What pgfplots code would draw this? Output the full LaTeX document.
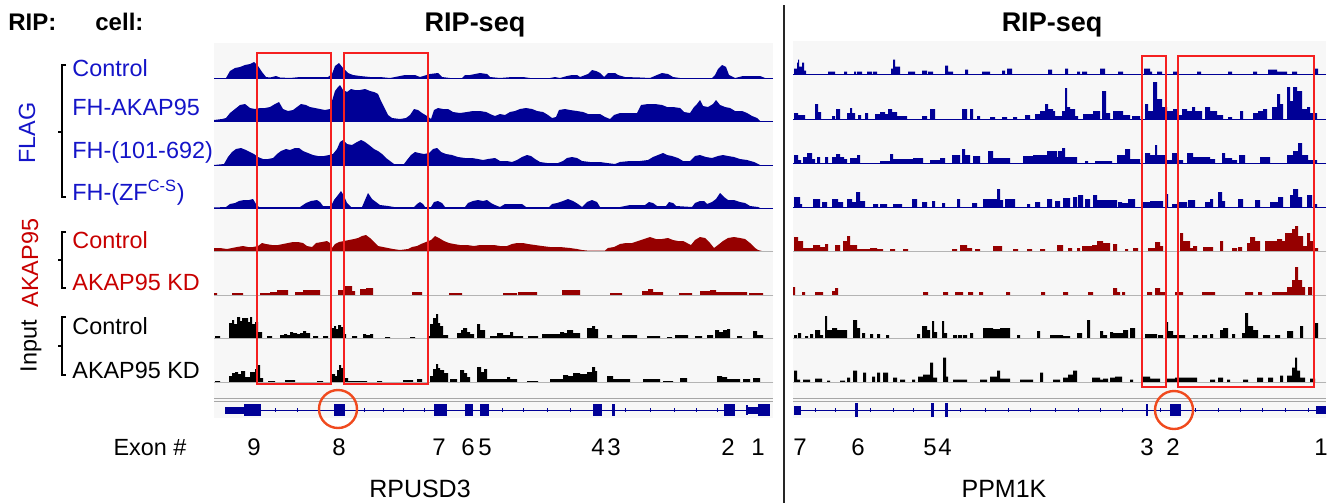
\documentclass[border=0pt]{standalone}
\usepackage{fontspec}
\setmainfont{Liberation Sans}
\usepackage{pgfplots}
\pgfplotsset{compat=1.18}
\definecolor{trblue}{HTML}{000096}
\definecolor{trred}{HTML}{960000}
\definecolor{labblue}{HTML}{1414C8}
\definecolor{labred}{HTML}{C80000}
\definecolor{bg}{HTML}{F7F7F7}
\definecolor{boxred}{HTML}{F52020}
\definecolor{circ}{HTML}{F04A1E}
\definecolor{basegray}{HTML}{B4B4B4}

\pgfplotsset{
  trk/.style={hide axis, scale only axis, anchor=south west, ymin=0, ymax=40, height=20pt, clip=false},
  lp/.style={xmin=214, xmax=773, width=279.5pt},
  rp/.style={xmin=793, xmax=1326, width=266.5pt},
}
% #1 panel, #2 x left (px), #3 baseline (px), #4 fill, #5 baseline colour, #6 plot kind, #7 coords
\newcommand{\track}[7]{%
  \begin{axis}[trk, #1, at={({#2*0.5pt},{-#3*0.5pt})}]
    \addplot[#6, fill=#4, draw=none] coordinates {#7} \closedcycle;
    \draw[#5, line width=0.5pt] (rel axis cs:0,0) -- (rel axis cs:1,0);
  \end{axis}}
\newcommand{\exon}[3]{\addplot[fill=trblue, draw=none] coordinates {(#1,-#3) (#2,-#3) (#2,#3) (#1,#3)} -- cycle;}
\newcommand{\lab}{\fontsize{11.7}{13}\selectfont}
\newcommand{\hd}{\fontsize{12}{14}\selectfont\bfseries}

\begin{document}
\begin{tikzpicture}
\begin{scope}[x=0.5pt, y=-0.5pt]
  \path[use as bounding box] (0,0) rectangle (1337,503);
  \fill[bg] (214,43) rectangle (773,418);
  \fill[bg] (793,41) rectangle (1326,418);
  \foreach \yy in {398,401} {
    \draw[gray!70, line width=0.5pt] (214,\yy) -- (773,\yy);
    \draw[gray!70, line width=0.5pt] (793,\yy) -- (1326,\yy);
  }
\end{scope}

% ---------- left panel: RPUSD3 ----------
\track{lp}{214}{78}{trblue}{trblue}{sharp plot}{(214,0)(226,0)(230,7)(235,10)(240,11)(245,13)(250,14)(254,16)(258,12)(262,6)(266,1)(270,0.5)(276,2)(280,0.5)(290,0)(300,1)(310,1)(320,1)(328,1)(332,4)(335,12)(339,15)(343,10)(348,5)(353,3)(360,2)(370,1)(380,1)(390,0)(400,2)(405,3)(415,3)(420,1)(430,4)(438,5)(442,1)(450,0)(462,0)(465,3)(470,3)(475,4)(480,5)(487,4)(490,1)(500,0)(512,1)(523,1)(530,0)(550,0)(555,1)(560,0)(567,2)(572,3)(577,3)(580,1)(588,4)(592,8)(596,7)(600,5)(604,1)(608,5)(615,5)(618,3)(625,1)(640,0.5)(650,0)(657,3)(662,5)(668,4)(673,1)(680,0)(712,0)(715,3)(718,9)(722,13)(726,11)(729,3)(735,0)(743,2)(760,2)(765,0)(773,0)}
\track{lp}{214}{121}{trblue}{trblue}{sharp plot}{(214,1)(222,2)(226,3)(230,8)(235,12)(240,16)(245,17)(250,13)(255,12)(260,13)(265,13)(270,14)(275,17)(279,19)(283,12)(288,10)(293,11)(297,14)(301,17)(306,16)(310,14)(315,13)(320,12)(325,11)(330,12)(332,20)(335,30)(338,34)(340,36)(343,31)(347,29)(351,32)(355,31)(360,31)(365,32)(370,30)(374,29)(378,27)(381,20)(384,14)(388,6)(392,3)(400,2)(406,3)(410,6)(414,12)(418,11)(422,8)(427,5)(431,2)(434,11)(438,13)(443,12)(448,12)(453,9)(460,8)(467,9)(473,10)(480,10)(486,9)(490,7)(495,5)(500,7)(505,6)(510,9)(515,10)(520,12)(526,13)(532,12)(537,10)(543,9)(548,6)(552,3)(556,4)(559,11)(565,12)(570,11)(577,10)(583,9)(588,7)(595,7)(600,7)(605,4)(610,2)(614,6)(620,8)(630,8)(637,8)(641,16)(648,17)(655,17)(662,16)(667,14)(673,14)(680,13)(684,9)(690,8)(694,14)(697,17)(700,21)(703,15)(708,14)(713,17)(716,21)(720,16)(725,14)(730,13)(735,10)(742,10)(747,8)(752,5)(757,3)(760,0)(773,0)}
\track{lp}{214}{165}{trblue}{trblue}{sharp plot}{(214,0)(224,1)(228,8)(232,13)(236,16)(241,17)(246,15)(250,13)(254,11)(258,8)(263,6)(268,6)(273,7)(277,11)(281,14)(286,16)(290,15)(295,17)(299,17)(303,14)(308,12)(313,10)(318,9)(324,9)(329,10)(333,11)(337,16)(340,23)(343,25)(347,21)(352,20)(357,23)(361,25)(365,23)(369,20)(374,16)(378,14)(382,11)(386,7)(390,4)(394,1)(404,1)(407,5)(411,10)(415,13)(419,12)(424,11)(429,12)(433,16)(437,17)(441,13)(446,11)(452,10)(458,8)(465,7)(472,7)(478,6)(483,5)(488,6)(495,7)(500,4)(507,4)(512,3)(517,5)(522,8)(527,10)(531,9)(535,6)(540,3)(547,2)(558,2)(563,4)(567,7)(572,8)(577,7)(582,4)(590,3)(600,3)(607,2)(615,1)(620,3)(630,4)(640,4)(648,5)(653,8)(658,10)(663,12)(667,10)(672,9)(678,7)(683,4)(690,4)(695,9)(700,10)(706,8)(712,7)(718,9)(723,10)(728,9)(734,8)(740,6)(747,5)(754,3)(760,0)(773,0)}
\track{lp}{214}{208}{trblue}{trblue}{sharp plot}{(214,0.5)(226,1)(230,4)(235,5)(239,7)(244,8)(249,8)(253,9)(256,4)(259,1)(275,1)(300,1)(303,3)(306,5)(311,7)(317,8)(320,6)(323,2)(331,2)(334,8)(338,13)(341,17)(344,12)(347,5)(351,1)(362,1)(365,8)(368,15)(372,9)(376,6)(380,3)(388,2)(394,1)(414,1)(417,4)(420,6)(423,4)(425,1)(431,1)(434,6)(438,7)(442,5)(445,1)(465,1)(468,5)(473,7)(478,8)(483,7)(487,8)(491,5)(495,3)(500,1)(505,4)(515,4)(522,4)(526,1)(549,1)(552,4)(557,5)(563,7)(568,9)(573,7)(578,4)(582,1)(587,6)(592,8)(597,6)(600,1)(620,1)(630,3)(645,3)(649,6)(653,5)(657,2)(666,2)(669,6)(673,5)(676,2)(692,1)(695,5)(700,7)(704,7)(707,4)(712,6)(716,9)(720,15)(724,11)(728,8)(734,8)(740,6)(745,5)(750,2)(758,1)(760,0)(773,0)}
\track{lp}{214}{251}{trred}{basegray}{sharp plot}{(214,3)(220,3)(227,2)(232,3)(237,4)(243,5)(248,4)(253,4)(258,5)(262,8)(266,7)(272,6)(278,6)(283,7)(288,8)(293,9)(298,9)(303,8)(307,5)(312,4)(316,8)(322,9)(327,10)(330,8)(332,3)(335,7)(339,9)(344,10)(349,11)(354,12)(358,13)(362,15)(366,16)(370,13)(374,9)(378,5)(383,4)(388,3)(393,2)(400,1)(408,2)(412,4)(417,5)(421,7)(426,9)(431,11)(435,15)(439,13)(444,10)(449,8)(454,7)(460,6)(467,6)(474,5)(480,6)(487,6)(494,6)(500,5)(507,5)(512,7)(517,8)(523,8)(528,7)(535,6)(542,5)(550,4)(560,4)(570,3)(577,2)(582,1)(587,0.5)(605,0.5)(608,3)(614,4)(620,7)(626,8)(632,8)(638,10)(644,12)(650,14)(656,12)(662,12)(668,13)(673,11)(678,10)(683,10)(687,8)(691,6)(695,11)(700,14)(705,13)(710,8)(714,3)(718,6)(723,10)(728,13)(734,14)(740,13)(745,12)(750,8)(755,3)(758,1)(762,0)(773,0)}
\track{lp}{214}{295}{trred}{basegray}{const plot}{(214,2)(217,0)(232,2)(243,0)(260,2)(270,3)(277,5)(288,0)(295,3)(303,5)(320,0)(338,5)(343,9)(352,4)(355,0)(360,6)(366,7)(373,0)(412,3)(422,0)(449,2)(462,0)(503,2)(517,0)(518,3)(537,0)(562,5)(580,0)(610,2)(622,0)(642,4)(648,6)(653,3)(663,0)(679,2)(692,0)(700,4)(710,5)(716,3)(747,0)(749,2)(763,0)(773,0)}
\track{lp}{214}{338}{black}{basegray}{const plot}{(214,0)(215,2)(220,0)(229,15)(232,18)(234,14)(237,21)(240,17)(242,20)(245,20)(248,16)(250,21)(252,14)(255,16)(258,6)(262,0)(267,2)(272,0)(280,3)(284,4)(287,3)(290,6)(293,5)(297,4)(300,5)(303,7)(306,5)(310,0)(313,2)(318,0)(323,2)(328,0)(332,10)(334,12)(336,9)(338,13)(341,11)(343,4)(346,0)(352,2)(357,0)(363,4)(366,3)(370,4)(373,0)(385,1)(390,0)(410,1)(415,0)(427,2)(430,14)(433,20)(436,24)(438,15)(440,12)(443,3)(448,0)(457,5)(461,8)(463,10)(467,6)(470,4)(474,0)(477,14)(480,8)(485,0)(490,2)(497,5)(503,3)(510,6)(513,2)(523,0)(528,2)(538,0)(542,4)(560,6)(564,5)(567,8)(573,5)(580,0)(587,10)(592,12)(595,9)(598,0)(607,3)(612,0)(622,3)(637,0)(647,2)(660,0)(667,1)(672,0)(675,3)(688,0)(695,2)(702,0)(707,3)(713,0)(715,8)(719,6)(723,8)(727,9)(730,0)(737,2)(742,0)(753,7)(757,3)(763,0)(773,0)}
\track{lp}{214}{382}{black}{basegray}{const plot}{(214,0)(215,1)(220,0)(229,6)(232,9)(235,10)(238,8)(241,11)(245,5)(250,10)(255,13)(257,17)(260,4)(263,0)(268,1)(275,0)(285,2)(295,0)(317,1)(323,0)(332,8)(335,6)(337,12)(339,17)(341,14)(343,4)(348,1)(367,0)(377,1)(382,0)(403,2)(413,0)(417,3)(422,0)(430,6)(433,13)(436,18)(438,14)(440,12)(444,9)(448,0)(450,3)(457,0)(460,12)(464,9)(467,5)(470,0)(477,15)(481,10)(484,13)(487,3)(490,3)(507,5)(510,3)(517,0)(527,1)(538,0)(550,3)(563,7)(568,6)(573,9)(580,8)(587,10)(592,15)(595,11)(597,0)(607,6)(613,3)(630,0)(643,3)(660,0)(663,1)(673,0)(680,4)(687,0)(717,6)(722,5)(727,3)(740,0)(743,3)(750,0)(753,4)(760,0)(773,0)}

% ---------- right panel: PPM1K ----------
\track{rp}{793}{74.5}{trblue}{trblue}{const plot}{(793,0)(794,6)(797,12)(798,15)(799,8)(802,12)(804,4)(806,0)(828,3)(835,0)(844,3)(847,0)(854,3)(856,0)(857,3)(862,0)(867,3)(872,0)(873,3)(877,0)(891,6)(893,15)(895,8)(900,0)(908,3)(915,0)(922,4)(927,0)(928,3)(933,0)(945,9)(948,3)(953,0)(965,5)(968,0)(982,3)(990,0)(1002,4)(1005,0)(1007,6)(1012,0)(1048,5)(1052,0)(1065,6)(1068,0)(1077,3)(1080,0)(1082,3)(1087,0)(1100,6)(1105,0)(1118,3)(1123,0)(1144,6)(1150,3)(1152,0)(1157,3)(1162,0)(1173,3)(1177,0)(1197,3)(1201,0)(1228,3)(1232,0)(1253,3)(1257,0)(1268,5)(1277,3)(1287,0)(1292,3)(1297,0)(1315,6)(1318,0)(1326,0)}
\track{rp}{793}{119}{trblue}{trblue}{const plot}{(793,0)(794,6)(798,4)(805,0)(815,15)(818,7)(821,0)(832,3)(835,0)(836,10)(840,0)(847,6)(850,11)(852,6)(855,0)(858,4)(861,0)(865,6)(868,0)(875,5)(880,7)(885,5)(888,10)(892,7)(897,3)(907,0)(922,3)(927,0)(930,10)(935,0)(962,10)(967,0)(970,10)(973,0)(977,3)(980,0)(990,2)(995,0)(1002,2)(1007,0)(1013,2)(1017,0)(1025,4)(1030,0)(1035,5)(1040,8)(1045,15)(1048,10)(1053,8)(1055,3)(1062,8)(1065,31)(1067,12)(1070,10)(1075,3)(1078,0)(1083,5)(1093,8)(1100,0)(1102,28)(1106,6)(1110,0)(1113,8)(1123,4)(1130,0)(1132,3)(1140,0)(1145,15)(1148,8)(1153,37)(1157,20)(1162,12)(1167,8)(1173,10)(1177,4)(1182,10)(1187,8)(1192,12)(1195,8)(1202,0)(1205,12)(1210,8)(1217,4)(1223,0)(1228,2)(1232,0)(1240,8)(1243,0)(1253,6)(1258,8)(1263,10)(1267,0)(1272,12)(1277,25)(1280,15)(1283,0)(1287,32)(1290,18)(1293,32)(1297,28)(1302,10)(1307,12)(1310,6)(1317,0)(1326,0)}
\track{rp}{793}{163}{trblue}{trblue}{const plot}{(793,0)(794,8)(798,3)(801,0)(803,6)(807,10)(812,4)(815,0)(817,6)(820,0)(825,6)(828,0)(832,6)(836,9)(840,6)(844,4)(847,0)(850,5)(855,5)(857,8)(860,0)(880,2)(890,9)(893,4)(913,5)(923,0)(930,3)(940,5)(945,0)(952,8)(960,0)(962,14)(965,8)(970,0)(973,7)(980,0)(988,12)(993,5)(1010,0)(1023,7)(1033,8)(1047,12)(1057,6)(1058,12)(1062,15)(1065,6)(1070,6)(1077,0)(1085,2)(1088,0)(1095,2)(1112,0)(1117,8)(1125,14)(1130,4)(1140,0)(1145,10)(1150,8)(1155,18)(1157,8)(1165,3)(1172,10)(1177,3)(1183,0)(1187,10)(1193,6)(1210,4)(1215,0)(1222,10)(1225,5)(1232,3)(1237,0)(1239,8)(1245,0)(1260,6)(1270,0)(1287,8)(1293,12)(1298,20)(1302,8)(1308,3)(1317,0)(1326,0)}
\track{rp}{793}{207}{trblue}{trblue}{const plot}{(793,0)(794,10)(800,3)(802,0)(813,8)(820,0)(822,5)(827,0)(832,8)(838,5)(843,0)(847,8)(852,5)(856,15)(860,6)(865,0)(873,3)(878,0)(880,3)(887,0)(893,3)(902,0)(912,8)(917,0)(922,5)(927,0)(932,6)(935,0)(942,4)(945,0)(957,8)(960,0)(972,4)(977,0)(983,8)(997,18)(1000,7)(1003,0)(1005,8)(1015,0)(1027,3)(1030,0)(1035,5)(1040,0)(1047,8)(1052,0)(1055,6)(1060,0)(1063,9)(1070,0)(1073,10)(1077,0)(1078,12)(1083,0)(1085,8)(1090,0)(1093,12)(1097,7)(1117,0)(1118,5)(1122,4)(1128,8)(1135,0)(1143,5)(1150,6)(1163,0)(1165,13)(1168,0)(1172,3)(1178,5)(1187,0)(1188,7)(1195,0)(1205,5)(1210,8)(1213,0)(1218,15)(1222,6)(1225,0)(1238,8)(1243,0)(1255,7)(1260,0)(1270,5)(1278,10)(1283,0)(1290,12)(1293,18)(1298,10)(1302,0)(1307,12)(1312,0)(1313,3)(1317,0)(1326,0)}
\track{rp}{793}{251}{trred}{basegray}{const plot}{(793,0)(794,14)(798,10)(803,3)(813,6)(820,4)(825,7)(828,0)(835,6)(840,0)(843,10)(847,15)(850,6)(857,2)(870,3)(877,2)(883,0)(890,2)(895,0)(903,2)(908,0)(952,2)(957,0)(960,6)(967,3)(972,0)(975,2)(980,0)(993,5)(1002,0)(1013,2)(1018,0)(1027,2)(1032,0)(1040,2)(1045,0)(1057,6)(1063,0)(1068,3)(1072,0)(1077,3)(1080,0)(1082,5)(1092,6)(1097,10)(1103,8)(1110,0)(1113,7)(1117,0)(1125,2)(1128,0)(1133,3)(1138,0)(1148,3)(1155,9)(1160,5)(1163,0)(1180,18)(1183,10)(1190,3)(1193,5)(1197,0)(1203,4)(1213,0)(1220,10)(1223,0)(1232,3)(1237,0)(1238,4)(1242,0)(1247,8)(1250,14)(1255,10)(1260,0)(1265,10)(1277,12)(1282,10)(1285,18)(1292,22)(1295,25)(1298,15)(1303,5)(1307,18)(1310,10)(1313,3)(1318,0)(1326,0)}
\track{rp}{793}{295}{trred}{basegray}{const plot}{(793,8)(795,0)(802,3)(805,0)(815,3)(823,0)(832,4)(835,7)(838,0)(923,3)(928,0)(943,3)(948,0)(955,3)(963,0)(968,3)(973,0)(979,3)(983,0)(1006,3)(1010,0)(1041,3)(1045,0)(1063,3)(1068,0)(1088,3)(1093,0)(1113,7)(1117,3)(1120,0)(1122,3)(1125,0)(1147,3)(1152,0)(1155,7)(1160,3)(1165,0)(1175,3)(1183,0)(1202,3)(1215,0)(1245,3)(1253,0)(1258,3)(1262,0)(1272,3)(1287,8)(1292,15)(1295,28)(1298,15)(1302,8)(1305,0)(1308,8)(1312,0)(1326,0)}
\track{rp}{793}{338}{black}{basegray}{const plot}{(793,0)(794,3)(797,0)(798,5)(801,0)(805,2)(808,0)(810,4)(813,0)(815,8)(820,3)(823,0)(825,22)(827,8)(832,10)(837,8)(847,0)(853,18)(857,10)(860,0)(862,5)(865,0)(870,4)(873,0)(877,4)(880,0)(886,3)(889,0)(917,4)(920,0)(922,12)(927,8)(930,0)(932,17)(934,6)(937,0)(942,17)(944,5)(947,0)(953,3)(957,0)(958,3)(962,0)(963,3)(967,0)(970,5)(973,0)(983,10)(993,9)(1000,10)(1010,0)(1017,3)(1020,0)(1037,7)(1040,0)(1050,3)(1063,2)(1070,0)(1077,5)(1082,0)(1087,18)(1090,0)(1100,7)(1103,3)(1107,0)(1110,6)(1113,5)(1123,8)(1128,0)(1130,10)(1135,0)(1145,4)(1157,0)(1158,3)(1163,0)(1165,16)(1168,7)(1173,3)(1185,0)(1193,3)(1198,0)(1202,3)(1207,0)(1210,4)(1213,0)(1220,8)(1223,10)(1228,0)(1232,4)(1235,0)(1242,5)(1245,25)(1248,12)(1253,8)(1258,0)(1263,3)(1270,0)(1275,3)(1280,0)(1287,7)(1293,0)(1300,12)(1303,0)(1315,15)(1318,0)(1326,0)}
\track{rp}{793}{382.5}{black}{basegray}{const plot}{(793,0)(794,12)(797,3)(800,0)(803,3)(810,0)(815,4)(822,0)(827,2)(830,0)(840,2)(845,0)(847,5)(850,0)(853,12)(857,0)(863,10)(866,0)(872,6)(875,0)(877,10)(880,0)(883,10)(888,0)(893,5)(897,0)(900,3)(905,0)(912,3)(915,0)(918,6)(923,8)(930,20)(933,5)(937,0)(943,25)(946,6)(948,0)(953,3)(967,0)(980,3)(987,0)(990,6)(997,12)(1000,4)(1010,0)(1020,3)(1033,0)(1040,10)(1043,0)(1053,3)(1060,0)(1063,5)(1068,8)(1073,12)(1077,0)(1092,5)(1100,3)(1103,4)(1108,0)(1110,5)(1115,6)(1122,0)(1130,3)(1133,0)(1142,6)(1150,4)(1160,0)(1167,4)(1175,5)(1190,5)(1197,0)(1210,3)(1215,0)(1218,5)(1223,0)(1227,3)(1230,0)(1243,3)(1248,0)(1257,5)(1263,0)(1268,5)(1273,0)(1280,7)(1283,0)(1287,7)(1292,15)(1295,25)(1297,12)(1300,5)(1305,0)(1310,4)(1315,0)(1326,0)}

% ---------- gene models ----------
\begin{axis}[trk, lp, ymin=-20, ymax=20, at={(107pt,-215pt)}]
  \addplot[trblue, line width=0.5pt] coordinates {(225,0) (770,0)};
  \addplot[trblue, only marks, mark=|, mark size=1pt] coordinates {(275,0)(297,0)(364,0)(383,0)(403,0)(424,0)(502,0)(523,0)(547,0)(570,0)(625,0)(650,0)(674,0)(696,0)(717,0)};
  \exon{225}{244}{3.5}\exon{244}{261}{6}\exon{334}{345}{6}\exon{434}{447}{6}
  \exon{465}{473}{6}\exon{480}{489}{6}\exon{593}{602}{6}\exon{612}{615}{6}
  \exon{724}{735}{6}\exon{746}{747.5}{5}\exon{747}{758}{3.5}\exon{758}{770}{6}
\end{axis}
\begin{axis}[trk, rp, ymin=-20, ymax=20, at={(396.5pt,-215pt)}]
  \addplot[trblue, line width=0.5pt] coordinates {(794,0) (1326,0)};
  \addplot[trblue, only marks, mark=|, mark size=1pt] coordinates {(815,0)(835,0)(870,0)(893,0)(913,0)(960,0)(985,0)(1008,0)(1030,0)(1055,0)(1078,0)(1100,0)(1122,0)(1160,0)(1195,0)(1218,0)(1240,0)(1262,0)(1285,0)(1308,0)};
  \exon{794}{801}{4.5}\exon{855}{858}{7}\exon{931}{934}{7}\exon{945}{948}{7}
  \exon{1146}{1148}{6}\exon{1170}{1181}{6}\exon{1316}{1326}{4}
\end{axis}

% ---------- annotations ----------
\begin{scope}[x=0.5pt, y=-0.5pt]
  \draw[black!85, line width=0.7pt] (784,5) -- (784,503);
  % red boxes
  \draw[boxred, line width=0.6pt] (257,53) rectangle (331,384);
  \draw[boxred, line width=0.6pt] (344,53) rectangle (428,384);
  \draw[boxred, line width=0.6pt] (1142,56) rectangle (1166,387);
  \draw[boxred, line width=0.6pt] (1178,56) rectangle (1314,387);
  % circles
  \draw[circ, line width=1.2pt] (338,409) circle (19);
  \draw[circ, line width=1.2pt] (1174,410) circle (19);
  % headings
  \node[anchor=base west, inner sep=0] at (8,30) {\hd RIP:};
  \node[anchor=base west, inner sep=0] at (95,30) {\hd cell:};
  \node[anchor=base, inner sep=0] at (475,31) {\fontsize{13.5}{15}\selectfont\bfseries RIP-seq};
  \node[anchor=base, inner sep=0] at (1052,31) {\fontsize{13.5}{15}\selectfont\bfseries RIP-seq};
  % group labels
  \node[rotate=90, labblue, inner sep=0] at (27,133) {\lab FLAG};
  \node[rotate=90, labred, inner sep=0] at (30,263) {\lab AKAP95};
  \node[rotate=90, black, inner sep=0] at (31,346) {\lab Input};
  \draw[line width=0.6pt] (66,65) -- (62,65) -- (62,197) -- (66,197) (62,132) -- (58,132);
  \draw[line width=0.6pt] (66,232) -- (62,232) -- (62,288) -- (66,288) (62,260) -- (58,260);
  \draw[line width=0.6pt] (66,317) -- (62,317) -- (62,375) -- (66,375) (62,346) -- (58,346);
  % track labels
  \node[anchor=base west, inner sep=0, labblue] at (72,76) {\lab Control};
  \node[anchor=base west, inner sep=0, labblue] at (72,115) {\lab FH-AKAP95};
  \node[anchor=base west, inner sep=0, labblue] at (72,158) {\lab FH-(101-692)};
  \node[anchor=base west, inner sep=0, labblue] at (72,200) {\lab FH-(ZF\textsuperscript{C-S})};
  \node[anchor=base west, inner sep=0, labred] at (72,248) {\lab Control};
  \node[anchor=base west, inner sep=0, labred] at (72,290) {\lab AKAP95 KD};
  \node[anchor=base west, inner sep=0] at (72,334) {\lab Control};
  \node[anchor=base west, inner sep=0] at (72,378) {\lab AKAP95 KD};
  % exon numbers
  \node[anchor=base, inner sep=0] at (150,455) {\lab Exon \#};
  \foreach \xx/\nn in {254/9,339/8,439/7,468/6,485/5,598/4,614/3,728/2,758/1,800/7,858/6,930/5,945/4,1147/3,1173/2,1321/1}
    \node[anchor=base, inner sep=0] at (\xx,455) {\fontsize{12}{14}\selectfont\nn};
  \node[anchor=base, inner sep=0] at (420,497) {\fontsize{12.5}{14}\selectfont RPUSD3};
  \node[anchor=base, inner sep=0] at (1004,497) {\fontsize{12.5}{14}\selectfont PPM1K};
\end{scope}
\end{tikzpicture}
\end{document}
